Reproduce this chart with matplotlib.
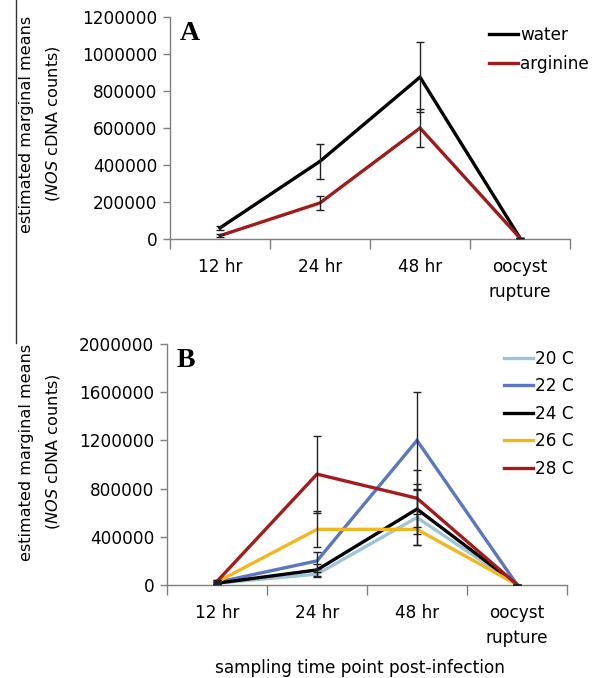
import matplotlib
matplotlib.use("Agg")
import matplotlib.pyplot as plt
from matplotlib.lines import Line2D

plt.rcParams['font.family'] = ['DejaVu Sans']
plt.rcParams['mathtext.fontset'] = 'dejavusans'

categories = ["12 hr", "24 hr", "48 hr", "oocyst\nrupture"]

# Panel A
water = [60000, 420000, 875000, 5000]
water_err = [12000, 95000, 190000, 0]
arginine = [18000, 195000, 600000, 5000]
arginine_err = [8000, 40000, 105000, 0]

# Panel B
t20 = [15000, 90000, 560000, 3000]
t20_err = [10000, 20000, 230000, 0]
t22 = [22000, 200000, 1200000, 3000]
t22_err = [12000, 70000, 400000, 0]
t24 = [15000, 125000, 630000, 3000]
t24_err = [10000, 50000, 210000, 0]
t26 = [25000, 462000, 462000, 3000]
t26_err = [15000, 150000, 130000, 0]
t28 = [30000, 920000, 720000, 3000]
t28_err = [15000, 320000, 235000, 0]

series_A = [("water", water, water_err, "#000000"),
            ("arginine", arginine, arginine_err, "#A11A1A")]
series_B = [("20 C", t20, t20_err, "#9CC5D9"),
            ("22 C", t22, t22_err, "#5B76C2"),
            ("24 C", t24, t24_err, "#000000"),
            ("26 C", t26, t26_err, "#F2B71C"),
            ("28 C", t28, t28_err, "#A51B1B")]

W, H = 600, 678
fig = plt.figure(figsize=(W / 100, H / 100), dpi=100)

FS = 12.2
SPINE = "#7f7f7f"


def px_axes(l, r, t, b):
    return fig.add_axes([l / W, 1 - b / H, (r - l) / W, (b - t) / H])


def style(ax, ymax, ystep):
    xs = [i + 0.5 for i in range(len(categories))]
    ax.set_xlim(0, len(categories))
    ax.set_ylim(0, ymax)
    ax.set_yticks(range(0, ymax + 1, ystep))
    ax.set_yticklabels([str(v) for v in range(0, ymax + 1, ystep)])
    ax.set_xticks(range(0, len(categories) + 1))
    ax.set_xticklabels([])
    ax.set_xticks(xs, minor=True)
    ax.set_xticklabels(categories, minor=True, fontsize=FS, linespacing=1.45, va='top')
    ax.tick_params(axis='x', which='major', length=7, width=1, color=SPINE, direction='out')
    ax.tick_params(axis='x', which='minor', length=0, pad=14)
    ax.tick_params(axis='y', length=5, width=1, color=SPINE, direction='out', labelsize=FS, pad=4)
    for s in ("top", "right"):
        ax.spines[s].set_visible(False)
    for s in ("left", "bottom"):
        ax.spines[s].set_color(SPINE)
        ax.spines[s].set_linewidth(1)
    return xs


def draw(ax, series, xs):
    for name, vals, err, col in series:
        ax.plot(xs, vals, color=col, lw=2.4, solid_joinstyle='miter', label=name, zorder=3)
    for name, vals, err, col in series:
        ax.errorbar(xs, vals, yerr=err, fmt='none', ecolor='#222222', elinewidth=1,
                    capsize=2.6, capthick=1, zorder=4)


# Panel A
axA = px_axes(170, 570, 17, 239)
xs = style(axA, 1200000, 200000)
draw(axA, series_A, xs)
fig.text(180 / W, 1 - 40 / H, "A", fontsize=20, fontweight='bold',
         family='Liberation Serif', ha='left', va='baseline')
hA = [Line2D([], [], color=c, lw=2.4) for _, _, _, c in series_A]
fig.legend(hA, [n for n, _, _, _ in series_A], loc='upper left',
           bbox_to_anchor=(482 / W, 1 - 19 / H), frameon=False, fontsize=FS,
           handlelength=1.75, handletextpad=0.1, labelspacing=0.65, borderaxespad=0)

# Panel B
axB = px_axes(167, 567, 344, 585)
xs = style(axB, 2000000, 400000)
draw(axB, series_B, xs)
fig.text(177 / W, 1 - 367 / H, "B", fontsize=20, fontweight='bold',
         family='Liberation Serif', ha='left', va='baseline')
hB = [Line2D([], [], color=c, lw=2.4) for _, _, _, c in series_B]
fig.legend(hB, [n for n, _, _, _ in series_B], loc='upper left',
           bbox_to_anchor=(497 / W, 1 - 343 / H), frameon=False, fontsize=FS,
           handlelength=1.75, handletextpad=0.1, labelspacing=0.56, borderaxespad=0)

# y labels
for yc in (124, 452):
    fig.text(27 / W, 1 - yc / H, "estimated marginal means", rotation=90,
             ha='center', va='center', fontsize=11.6)
    fig.text(53 / W, 1 - yc / H, r"($\it{NOS}$ cDNA counts)", rotation=90,
             ha='center', va='center', fontsize=11.6)

# x label
fig.text(360 / W, 1 - 668 / H, "sampling time point post-infection",
         ha='center', va='center', fontsize=FS)

# left vertical rule
fig.add_artist(Line2D([16 / W, 16 / W], [1, 1 - 343 / H], color='#333333', lw=1,
                      transform=fig.transFigure))

fig.savefig("out.png", dpi=100)
